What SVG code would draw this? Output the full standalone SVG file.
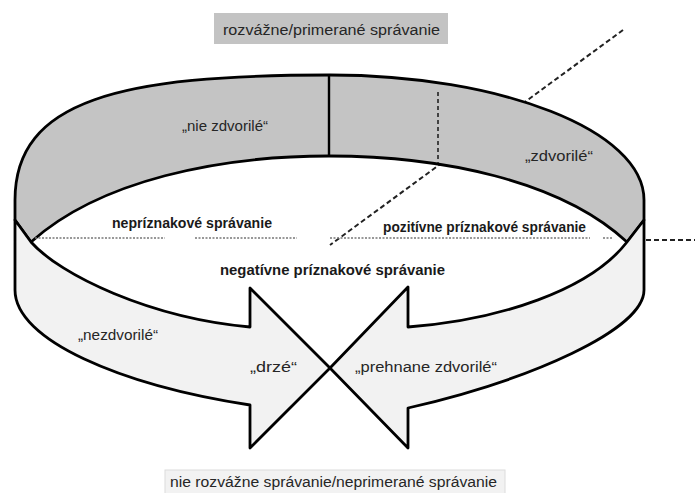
<svg xmlns="http://www.w3.org/2000/svg" width="695" height="493" viewBox="0 0 695 493">
<style>
  .lbl { font-family: "Liberation Sans", Arial, sans-serif; font-size: 14px; fill: #262626; }
  .bld { font-family: "Liberation Sans", Arial, sans-serif; font-size: 14px; font-weight: bold; fill: #1a1a1a; }
  .band { stroke: #000; stroke-width: 2.8; stroke-linejoin: round; }
  .dash { fill: none; stroke: #222; stroke-width: 2; stroke-dasharray: 5 3; }
  .dot { fill: none; stroke: #777; stroke-width: 1.6; stroke-dasharray: 2 1.5; }
</style>
<rect width="695" height="493" fill="#fff"/>

<g id="connectors">
  <line class="dash" x1="623" y1="30" x2="330" y2="245"/>
  <line class="dash" x1="646" y1="240" x2="695" y2="240" stroke-width="2.4" stroke-dasharray="6 4"/>
</g>

<g id="top-band">
  <path class="band" fill="#c4c4c4" d="M15,200 C15,100 120,75 330,75 C500,75 644,130 644,200 L644,220 L627,242 C560,180 440,156 329,156 C220,156 100,180 31,242 L15,220 Z"/>
  <line x1="329" y1="75" x2="329" y2="156" stroke="#000" stroke-width="2.4"/>
  <line x1="438" y1="92" x2="438" y2="163" stroke="#222" stroke-width="1.6" stroke-dasharray="4 3"/>
</g>

<g id="left-arrow">
  <path class="band" fill="#f2f2f2" d="M15,220 L15,290 C15,340 120,385 250,405 L250,448 L330,368 L250,288 L250,327 C150,318 60,275 31,242 Z"/>
</g>

<g id="right-arrow">
  <path class="band" fill="#f2f2f2" d="M644,220 L644,290 C644,330 530,380 408,408 L408,448 L330,368 L408,287 L408,327 C500,320 590,290 627,242 Z"/>
</g>

<g id="dotted-lines">
  <line class="dot" x1="35" y1="238" x2="165" y2="238"/>
  <line class="dot" x1="195" y1="238" x2="297" y2="238"/>
  <line class="dot" x1="330" y1="238" x2="590" y2="238"/>
  <line class="dot" x1="603" y1="238" x2="613" y2="238"/>
</g>

<g id="label-top">
  <rect x="214" y="13" width="234" height="31" fill="#c3c3c3"/>
  <text class="lbl" x="223" y="35" textLength="217" lengthAdjust="spacingAndGlyphs">rozvážne/primerané správanie</text>
</g>

<g id="label-bottom">
  <rect x="165" y="470" width="340" height="25" fill="#f2f2f2" stroke="#dcdcdc" stroke-width="1"/>
  <text class="lbl" x="170" y="487" textLength="327" lengthAdjust="spacingAndGlyphs">nie rozvážne správanie/neprimerané správanie</text>
</g>

<g id="node-nie-zdvorile"><text class="lbl" x="182" y="131" textLength="86" lengthAdjust="spacingAndGlyphs">„nie zdvorilé“</text></g>
<g id="node-zdvorile"><text class="lbl" x="525" y="161" textLength="68" lengthAdjust="spacingAndGlyphs">„zdvorilé“</text></g>
<g id="node-nepriznakove"><text class="bld" x="112" y="228" textLength="160" lengthAdjust="spacingAndGlyphs">nepríznakové správanie</text></g>
<g id="node-pozitivne"><text class="bld" x="383" y="232" textLength="203" lengthAdjust="spacingAndGlyphs">pozitívne príznakové správanie</text></g>
<g id="node-negativne"><text class="bld" x="220" y="275" textLength="225" lengthAdjust="spacingAndGlyphs">negatívne príznakové správanie</text></g>
<g id="node-nezdvorile"><text class="lbl" x="78" y="340" textLength="80" lengthAdjust="spacingAndGlyphs">„nezdvorilé“</text></g>
<g id="node-drze"><text class="lbl" x="250" y="372" textLength="47" lengthAdjust="spacingAndGlyphs">„drzé“</text></g>
<g id="node-prehnane"><text class="lbl" x="355" y="372" textLength="142" lengthAdjust="spacingAndGlyphs">„prehnane zdvorilé“</text></g>
</svg>
